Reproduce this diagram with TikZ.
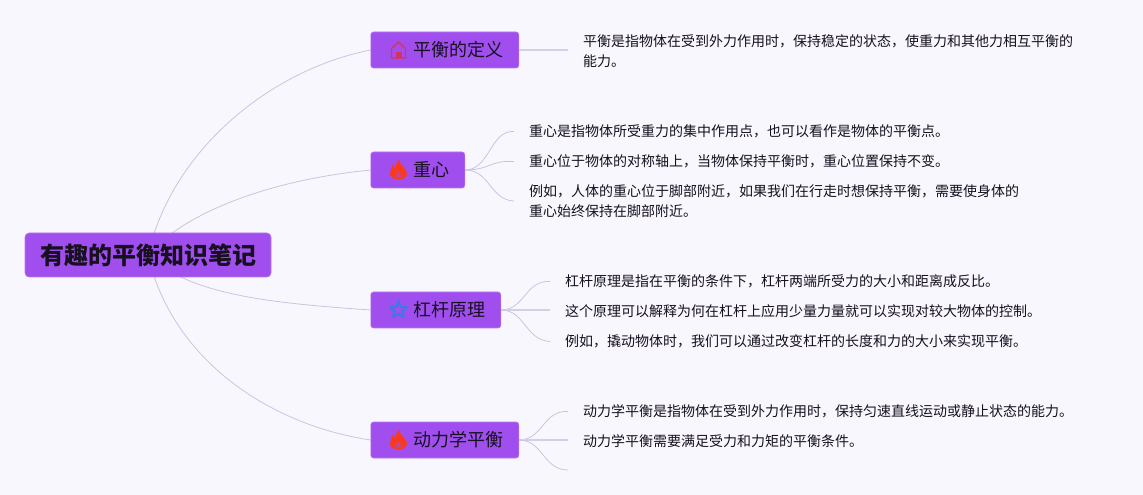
\documentclass[tikz,border=0pt]{standalone}
\usepackage{fontspec}
\setmainfont{Noto Sans CJK SC}
\usetikzlibrary{positioning,backgrounds}
\definecolor{NoteBack}{HTML}{F9F7FE}
\definecolor{NotePurple}{HTML}{A04FEE}
\definecolor{NoteRim}{HTML}{B57AF2}
\definecolor{NoteInk}{HTML}{16101F}
\definecolor{NoteLine}{HTML}{CBC3E3}
\definecolor{FlameRed}{HTML}{FA3A1E}
\definecolor{HouseRed}{HTML}{D8335F}
\definecolor{StarBlue}{HTML}{3F77E4}

\tikzset{
  rootnode/.style={rectangle,rounded corners=3pt,fill=NotePurple,draw=NoteRim,text=NoteInk,
    font=\fontsize{18pt}{22pt}\selectfont\bfseries,minimum width=184.5pt,minimum height=33pt,inner sep=0pt},
  branch/.style={rectangle,rounded corners=2pt,fill=NotePurple,draw=NoteRim,text=NoteInk,anchor=west,
    font=\fontsize{13.5pt}{16pt}\selectfont,minimum height=27pt,inner xsep=11.25pt,inner ysep=0pt,
    execute at begin node=\hspace{21pt}},
  leaf/.style={anchor=west,align=left,text=NoteInk,inner xsep=11.2pt,inner ysep=0pt,
    font=\fontsize{10.5pt}{15pt}\selectfont},
  link/.style={NoteLine,line width=0.6pt},
  stub/.style={NoteLine!80!NoteBack,line width=1.1pt},
  flame/.pic={
    \fill[FlameRed] (1,-10.5) .. controls (1.5,-6) and (3,-5) .. (5,-2.5)
      .. controls (7,-0.5) and (8.5,1) .. (8.5,3.5)
      .. controls (8.5,7.5) and (4.5,9.5) .. (0,9.5) .. controls (-4.5,9.5) and (-8.5,7.5) .. (-8.5,3.5)
      .. controls (-8.5,0) and (-6.5,-2.5) .. (-5.5,-6.5) .. controls (-5,-4) and (-3.8,-2) .. (-2.6,-1.5)
      .. controls (-3.5,-5) and (-1.5,-8.5) .. (1,-10.5) -- cycle;
    \fill[FlameRed!45!NotePurple] (0.3,1.5) .. controls (0.5,3.5) and (3.2,4.5) .. (3,6.2)
      .. controls (2.6,8.2) and (-2.6,8.2) .. (-3,6.2) .. controls (-3.2,4.5) and (-0.8,3.5) .. (0.3,1.5) -- cycle;
  },
  house/.pic={
    \draw[HouseRed,line width=1pt,line join=round] (-7,8) -- (-7,-1.5) -- (0,-8) -- (7,-1.5) -- (7,8) -- cycle;
    \fill[HouseRed] (-3,2) rectangle (3,8);
  },
  starshape/.pic={
    \draw[StarBlue,line width=1.5pt,line join=round] (0,-9) -- (2.3,-3) -- (8.6,-2.8) -- (3.6,1.3)
      -- (5.3,7.3) -- (0,3.8) -- (-5.3,7.3) -- (-3.6,1.3) -- (-8.6,-2.8) -- (-2.3,-3) -- cycle;
  }
}

\begin{document}
\begin{tikzpicture}[x=0.75pt,y=-0.75pt]
  \useasboundingbox (0,0) rectangle (1143,495);

  \node[rootnode] (root) at (148,255) {\raisebox{-1pt}{\hspace{1.5pt}有趣的平衡知识笔记}};

  \node[branch] (define) at (370.5,50) {\raisebox{-1pt}{平衡的定义}};
  \node[branch] (centre) at (370.5,170) {\raisebox{-1pt}{重心}};
  \node[branch] (lever) at (370.5,310) {\raisebox{-1pt}{杠杆原理}};
  \node[branch] (dynamic) at (370.5,440) {\raisebox{-1pt}{动力学平衡}};

  \pic at ([xshift=21pt]define.west) {house};
  \pic at ([xshift=21pt]centre.west) {flame};
  \pic at ([xshift=21pt]lever.west) {starshape};
  \pic at ([xshift=21pt]dynamic.west) {flame};

  \node[leaf] (define1) at (568,51) {平衡是指物体在受到外力作用时，保持稳定的状态，使重力和其他力相互平衡的\\能力。};

  \node[leaf] (centre1) at (514,131.5) {重心是指物体所受重力的集中作用点，也可以看作是物体的平衡点。};
  \node[leaf] (centre2) at (514,161.5) {重心位于物体的对称轴上，当物体保持平衡时，重心位置保持不变。};
  \node[leaf] (centre3) at (514,201) {例如，人体的重心位于脚部附近，如果我们在行走时想保持平衡，需要使身体的\\重心始终保持在脚部附近。};

  \node[leaf] (lever1) at (550,281.5) {杠杆原理是指在平衡的条件下，杠杆两端所受力的大小和距离成反比。};
  \node[leaf] (lever2) at (550,311.5) {这个原理可以解释为何在杠杆上应用少量力量就可以实现对较大物体的控制。};
  \node[leaf] (lever3) at (550,341.5) {例如，撬动物体时，我们可以通过改变杠杆的长度和力的大小来实现平衡。};

  \node[leaf] (dynamic1) at (568,411.5) {动力学平衡是指物体在受到外力作用时，保持匀速直线运动或静止状态的能力。};
  \node[leaf] (dynamic2) at (568,441.5) {动力学平衡需要满足受力和力矩的平衡条件。};
  \coordinate (dynamic3) at (568,470);

  \begin{scope}[on background layer]
    \fill[NoteBack] (0,0) rectangle (1143,495);
    \draw[link] (root.center) .. controls (172,150) and (270,70) .. (define.west);
    \draw[link] (root.center) .. controls (185,212) and (270,180) .. (centre.west);
    \draw[link] (root.center) .. controls (190,295) and (270,303) .. (lever.west);
    \draw[link] (root.center) .. controls (172,360) and (270,425) .. (dynamic.west);
  \end{scope}

  \draw[stub] (define.east) -- (define.east -| define1.west);

  \draw[link] (centre.east) .. controls (490,170) and (490,130) .. (centre1.west);
  \draw[link] (centre.east) .. controls (490,170) and (490,160) .. (centre2.west);
  \draw[link] (centre.east) .. controls (490,170) and (490,200) .. (centre3.west);

  \draw[link] (lever.east) .. controls (525,310) and (525,280) .. (lever1.west);
  \draw[stub] (lever.east) -- (lever.east -| lever2.west);
  \draw[link] (lever.east) .. controls (525,310) and (525,340) .. (lever3.west);

  \draw[link] (dynamic.east) .. controls (543,440) and (543,410) .. (dynamic1.west);
  \draw[stub] (dynamic.east) -- (dynamic.east -| dynamic2.west);
  \draw[link] (dynamic.east) .. controls (543,440) and (543,470) .. (dynamic3);
\end{tikzpicture}
\end{document}
